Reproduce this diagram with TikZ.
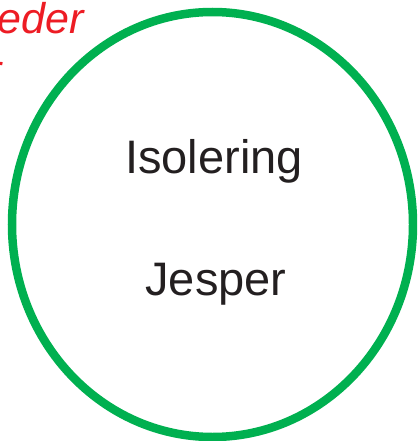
\documentclass[tikz,border=0pt]{standalone}
\usepackage{fontspec}
\setmainfont{Liberation Sans}
\usetikzlibrary{shapes.geometric}
\definecolor{ringgreen}{RGB}{0,176,80}
\definecolor{notered}{RGB}{237,28,36}
\definecolor{textgray}{RGB}{35,31,32}
\tikzset{
	ring/.style={ellipse, draw=ringgreen, line width=8.5pt, inner sep=0pt, minimum width=401pt, minimum height=425pt},
	word/.style={anchor=base, text=textgray, inner sep=0pt, font=\fontsize{47}{50}\selectfont},
	note/.style={anchor=base east, text=notered, inner sep=0pt, font=\fontsize{43}{48}\selectfont\itshape}
}
\begin{document}
\begin{tikzpicture}[x=1pt,y=-1pt]
			\useasboundingbox (0,0) rectangle (417,441);
			\clip (0,0) rectangle (417,441);
			\node (ring)[ring] at (212.5,224.5) {};
			\node (isolering)[word] at (214,173) {Isolering};
			\node (jesper)[word] at (216,295) {Jesper};
			\node (noteA)[note] at (84,34) {eder};
			\node (noteB)[note] at (2,85) {r};
		\end{tikzpicture}
\end{document}
